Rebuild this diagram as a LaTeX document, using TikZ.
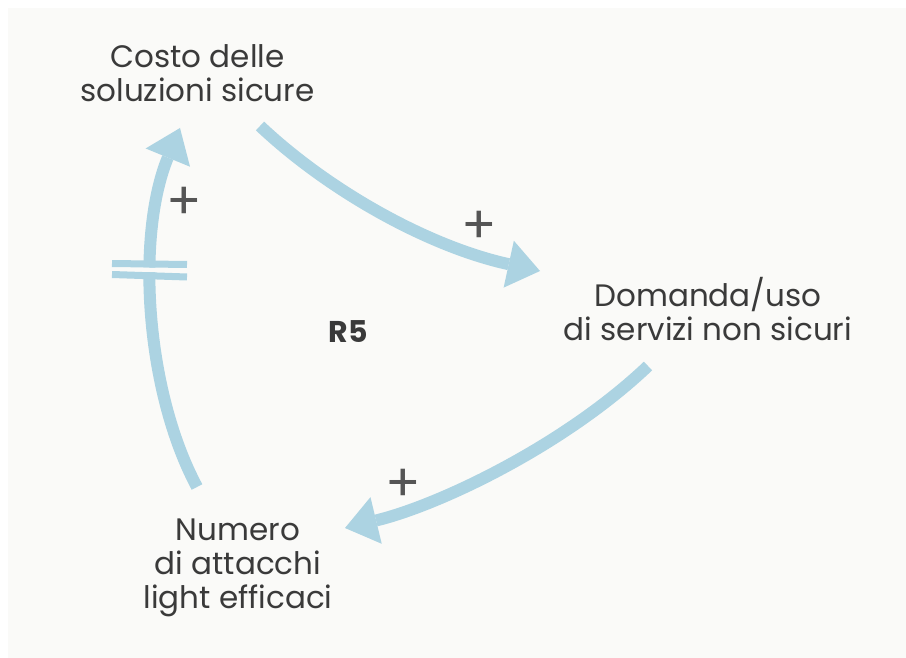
\documentclass[tikz,border=0pt]{standalone}
\usepackage{fontspec}
\setmainfont{Poppins}
\usetikzlibrary{arrows.meta}
\definecolor{bgcol}{RGB}{250,250,248}
\definecolor{arrowblue}{RGB}{172,211,226}
\definecolor{txt}{RGB}{58,58,58}
\definecolor{plusgray}{RGB}{85,85,85}
\tikzset{
  var/.style={align=center, inner sep=0pt, anchor=base, text=txt,
    font=\fontsize{31}{34}\selectfont},
  loopname/.style={inner sep=0pt, anchor=base, text=txt,
    font=\fontsize{30}{30}\selectfont\bfseries},
  polarity/.style={inner sep=0pt, text=plusgray,
    font=\fontsize{52}{52}\selectfont},
  link/.style={draw=arrowblue, line width=12pt,
    -{Triangle[length=32pt,width=48pt,line width=0pt]}},
  delaybar/.style={draw=arrowblue, line width=7pt}
}
\begin{document}
\begin{tikzpicture}[x=1pt,y=-1pt]
\useasboundingbox (0,0) rectangle (906,658);
\fill[white] (0,0) rectangle (906,658);
\fill[bgcol] (8,8) rectangle (906,658);

\node[var] (costo) at (197.5,102) {Costo delle\\soluzioni sicure};
\node[var] (domanda) at (708,340) {Domanda/uso\\di servizi non sicuri};
\node[var] (numero) at (238,608) {Numero\\di attacchi\\light efficaci};
\node[loopname] (r5) at (348.5,342) {R5};

\coordinate (c1s) at (260,126);
\coordinate (c1e) at (540,271);
\coordinate (c2s) at (648,366);
\coordinate (c2e) at (345,528);
\coordinate (c3s) at (197,487);
\coordinate (c3e) at (180,128);

\draw[link] (c1s) .. controls (330,192) and (430,247) .. (c1e);
\draw[link] (c2s) .. controls (565,445) and (440,505) .. (c2e);
\draw[link] (c3s) .. controls (145,390) and (136,235) .. (c3e);

% delay mark
\fill[bgcol] (110,267) -- (189,268) -- (189,273) -- (110,271) -- cycle;
\draw[delaybar] (112,263.5) -- (187,264.5);
\draw[delaybar] (112,274.5) -- (187,277);

\node[polarity] (p3) at (184.5,203.5) {+};
\node[polarity] (p1) at (479,227.5) {+};
\node[polarity] (p2) at (403.5,485) {+};
\end{tikzpicture}
\end{document}
